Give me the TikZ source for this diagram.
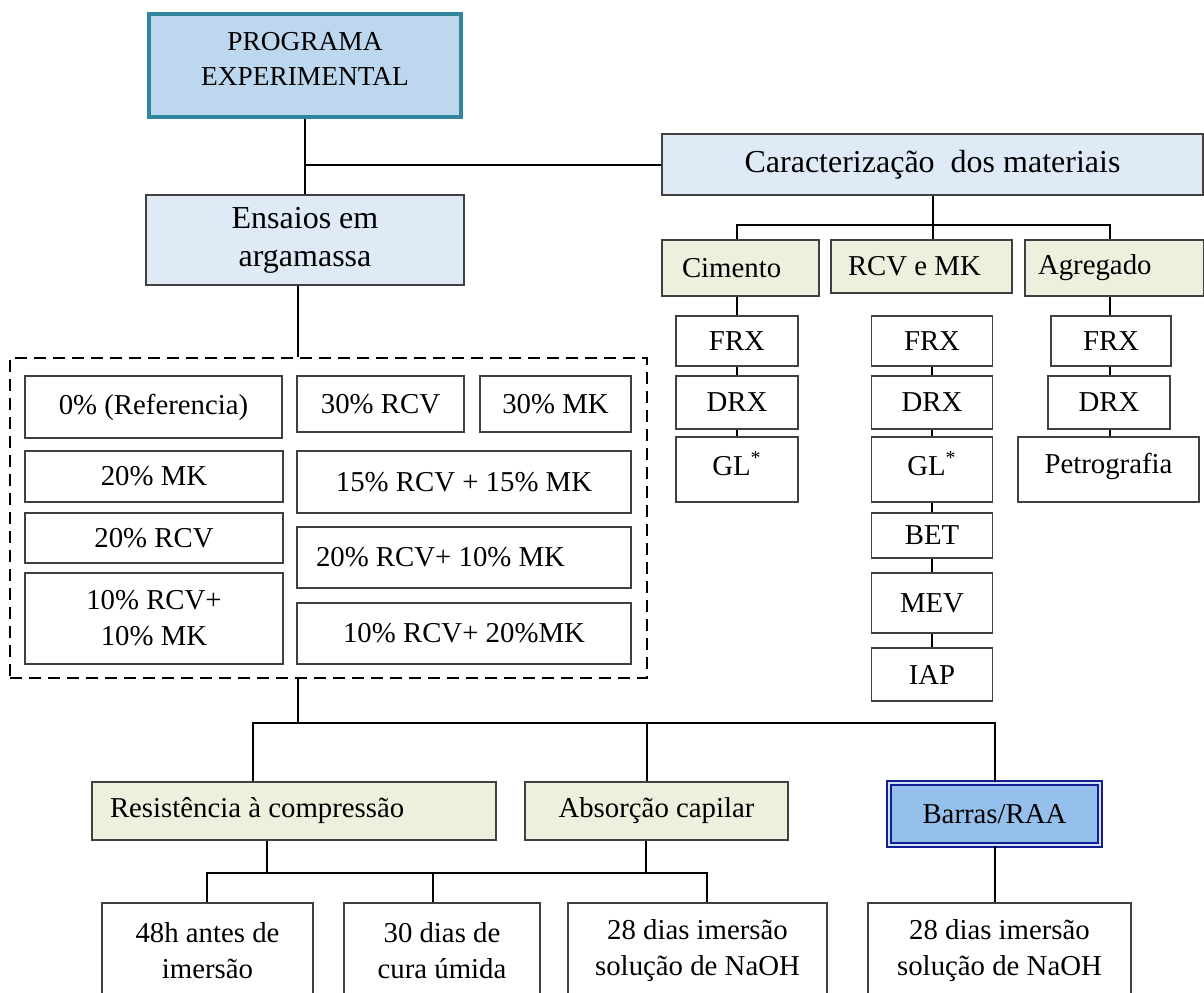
\documentclass[tikz,border=0pt]{standalone}
\usepackage{fontspec}
\setmainfont{Liberation Serif}
\usepackage{tikz}
\usetikzlibrary{calc}
\definecolor{tealprog}{RGB}{49,133,156}
\definecolor{azulprog}{RGB}{189,215,238}
\definecolor{azulclaro}{RGB}{222,235,247}
\definecolor{verdeclaro}{RGB}{236,241,222}
\definecolor{azulbarras}{RGB}{150,192,236}
\definecolor{marinho}{RGB}{22,30,150}
\definecolor{borda}{RGB}{64,64,64}
\tikzset{nrm/.style={font=\fontsize{14.4}{18}\selectfont}}
\tikzset{grd/.style={font=\fontsize{16}{19}\selectfont}}
\tikzset{caixa/.style={nrm, draw=borda, line width=0.75pt, fill=white, inner sep=0pt, align=center}}
\tikzset{azul/.style={caixa, fill=azulclaro}}
\tikzset{verde/.style={caixa, fill=verdeclaro}}
\tikzset{progbox/.style={caixa, font=\fontsize{13.7}{17.5}\selectfont, draw=tealprog, line width=2pt, fill=azulprog}}
\tikzset{barrasbox/.style={caixa, draw=marinho, line width=1pt, double=azulbarras!45!white, double distance=1pt, fill=azulbarras}}
\tikzset{esq/.style 2 args={align=flush left, inner xsep=#1, text width=#2}}
\tikzset{alto/.style={text depth=6pt}}
\tikzset{lig/.style={draw=black, line width=1pt}}
\tikzset{tracejado/.style={draw=black, line width=1pt, dash pattern=on 6pt off 3.5pt}}

\begin{document}
\begin{tikzpicture}[x=0.5pt,y=-0.5pt]
\useasboundingbox (0,0) rectangle (1204,992);

% topo
\node[progbox, text depth=7pt, minimum width=156pt, minimum height=51.5pt] (prog) at (305,65.5) {PROGRAMA\\EXPERIMENTAL};
\node[azul, grd, minimum width=159pt, minimum height=45pt] (ensaios) at (305,240) {Ensaios em\\argamassa}
  edge[lig] (prog);
\node[azul, grd, minimum width=270.5pt, minimum height=30.5pt] (caract) at (932.5,164.5) {Caracterização~ dos materiais};
\draw[lig] (caract.west) -- (caract.west -| prog.south);

% caracterizacao
\coordinate (cbus) at (933,225);
\node[verde, esq={10pt}{58.5pt}, minimum width=78.5pt, minimum height=28pt] (cimento) at (740.5,268) {Cimento};
\node[verde, esq={8.5pt}{73.5pt}, minimum width=90.5pt, minimum height=26.5pt] (rcvmk) at (921.5,266.5) {RCV e MK};
\node[verde, esq={6.5pt}{76.5pt}, minimum width=89.5pt, minimum height=28pt] (agregado) at (1114.5,268) {Agregado};
\draw[lig] (caract.south -| cbus) -- (cbus);
\draw[lig] (cbus) -- (rcvmk.north -| cbus);
\draw[lig] (cimento.north -| 737,0) |- (cbus) -| (agregado.north -| 1110,0);

\node[caixa, minimum width=61pt, minimum height=25pt] (frx1) at (737,341) {FRX};
\node[caixa, minimum width=61pt, minimum height=26.5pt] (drx1) at (737,402.5) {DRX}
  edge[lig] (frx1);
\node[caixa, alto, minimum width=61pt, minimum height=32.5pt] (gl1) at (737,469.5) {GL\textsuperscript{*}}
  edge[lig] (drx1);
\draw[lig] (frx1.north) -- (frx1.north |- cimento.south);

\node[caixa, minimum width=60.5pt, minimum height=25pt] (frx2) at (932,341) {FRX};
\node[caixa, minimum width=60.5pt, minimum height=26.5pt] (drx2) at (932,402.5) {DRX}
  edge[lig] (frx2);
\node[caixa, alto, minimum width=60.5pt, minimum height=32.5pt] (gl2) at (932,469.5) {GL\textsuperscript{*}}
  edge[lig] (drx2);
\node[caixa, minimum width=60.5pt, minimum height=22.5pt] (bet) at (932,535.5) {BET}
  edge[lig] (gl2);
\node[caixa, minimum width=60.5pt, minimum height=30pt] (mev) at (932,603) {MEV}
  edge[lig] (bet);
\node[caixa, minimum width=60.5pt, minimum height=26.5pt] (iap) at (932,674.5) {IAP}
  edge[lig] (mev);

\node[caixa, minimum width=60pt, minimum height=25pt] (frx3) at (1111,341) {FRX};
\node[caixa, minimum width=61pt, minimum height=26.5pt] (drx3) at (1109,402.5) {DRX};
\node[caixa, alto, minimum width=90.5pt, minimum height=32.5pt] (petro) at (1108.5,469.5) {Petrografia};
\draw[lig] (frx3.north -| 1110,0) -- (agregado.south -| 1110,0);
\draw[lig] (frx3.south -| 1110,0) -- (drx3.north -| 1110,0);
\draw[lig] (drx3.south -| 1110,0) -- (petro.north -| 1110,0);

% ensaios em argamassa
\node[tracejado, inner sep=0pt, minimum width=318.5pt, minimum height=160pt] (grupo) at (328.5,518) {};
\draw[lig] ([xshift=-3.5pt]ensaios.south) -- ([xshift=-3.5pt]ensaios.south |- grupo.north);

\node[caixa, minimum width=128.5pt, minimum height=31pt] (ref) at (153.5,407) {0\% (Referencia)};
\node[caixa, minimum width=83.5pt, minimum height=28pt] (rcv30) at (380.5,404) {30\% RCV};
\node[caixa, minimum width=75.5pt, minimum height=28pt] (mk30) at (555.5,404) {30\% MK};
\node[caixa, minimum width=129pt, minimum height=25.5pt] (mk20) at (154,476.5) {20\% MK};
\node[caixa, minimum width=167pt, minimum height=31pt] (rcvmka) at (464,482) {15\% RCV + 15\% MK};
\node[caixa, minimum width=129pt, minimum height=25pt] (rcv20) at (154,538) {20\% RCV};
\node[caixa, esq={9.5pt}{148pt}, minimum width=167pt, minimum height=30.5pt] (rcvmkb) at (464,557.5) {20\% RCV+ 10\% MK};
\node[caixa, minimum width=129pt, minimum height=45.5pt] (rcvmkc) at (154,618.5) {10\% RCV+\\10\% MK};
\node[caixa, minimum width=167pt, minimum height=30.5pt] (rcvmkd) at (464,633.5) {10\% RCV+ 20\%MK};

% ensaios
\coordinate (bus1) at (298,723);
\coordinate (bus2) at (253,723);
\node[verde, esq={9pt}{184pt}, minimum width=202pt, minimum height=29pt] (resist) at (294,811) {Resistência à compressão};
\node[verde, minimum width=131.5pt, minimum height=29pt] (absorc) at (656.5,811) {Absorção capilar};
\node[barrasbox, minimum width=105.5pt, minimum height=31pt] (barras) at (994.5,814) {Barras/RAA};
\draw[lig] (bus1 |- grupo.south) -- (bus1);
\draw[lig] (resist.north -| bus2) -- (bus2) -- (barras.north |- bus2) -- (barras.north);
\draw[lig] ([xshift=-4.75pt]absorc.north) -- ([xshift=-4.75pt]absorc.north |- bus2);

\coordinate (bus3) at (207,873);
\coordinate (bus4) at (707,873);
\node[caixa, minimum width=105.5pt, minimum height=47.5pt] (h48) at (207.5,950.5) {48h antes de\\imersão};
\node[caixa, minimum width=98pt, minimum height=47.5pt] (d30) at (442,950.5) {30 dias de\\cura úmida};
\node[caixa, minimum width=129.5pt, minimum height=47.5pt] (d28a) at (697.5,950.5) {28 dias imersão\\solução de NaOH};
\node[caixa, minimum width=131.5pt, minimum height=47.5pt] (d28b) at (999.5,950.5) {28 dias imersão\\solução de NaOH};
\draw[lig] (h48.north -| bus3) -- (bus3) -- (bus4) -- (bus4 |- d28a.north);
\draw[lig] (resist.south -| 267,0) -- (267,873);
\draw[lig] (absorc.south -| 646,0) -- (646,873);
\draw[lig] (433,873) -- (d30.north -| 433,0);
\draw[lig] (barras.south) -- (barras.south |- d28b.north);
\end{tikzpicture}
\end{document}
